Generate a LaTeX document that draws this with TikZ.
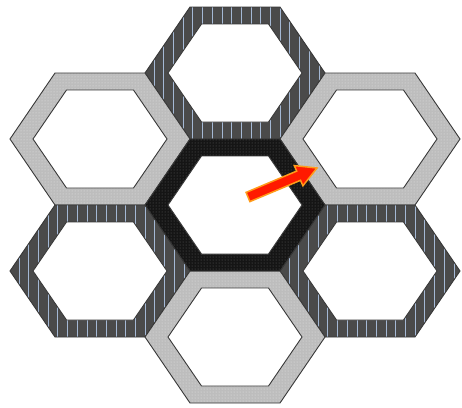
\documentclass[tikz,border=0pt]{standalone}
\usetikzlibrary{patterns}
\definecolor{stripebase}{HTML}{4A4A4A}
\definecolor{stripeline}{HTML}{A4B8D4}
\definecolor{lightbase}{HTML}{BDBDBD}
\definecolor{lightdot}{HTML}{E4E4E4}
\definecolor{darkbase}{HTML}{151515}
\definecolor{darkdot}{HTML}{606060}
\definecolor{edge}{HTML}{383838}
\definecolor{arrowred}{HTML}{FF1A00}
\definecolor{arroworange}{HTML}{FF9C1A}
\tikzset{
  hexedge/.style={draw=edge, line width=0.9pt, line join=miter},
  stripes/.style={draw=stripeline, line width=1pt},
  arrowbody/.style={fill=arrowred, draw=arroworange, line width=1.5pt, line join=miter},
}
\newcommand\texstripe{%
  \fill[stripebase] (-95,-70) rectangle (95,70);
  \foreach \k in {-9,...,9} \draw[stripes] ({-3.3+9.7*\k},-70) -- ({-3.3+9.7*\k},70);}
\newcommand\texlight{%
  \fill[lightbase] (-95,-70) rectangle (95,70);
  \fill[pattern=dots, pattern color=lightdot] (-95,-70) rectangle (95,70);}
\newcommand\texdark{%
  \fill[darkbase] (-95,-70) rectangle (95,70);
  \fill[pattern=dots, pattern color=darkdot] (-95,-70) rectangle (95,70);}
\newcommand\hexring[3]{%
  \begin{scope}[shift={(#1,#2)}]
    \begin{scope}
      \clip (-90,0) -- (-45,-66) -- (45,-66) -- (90,0) -- (45,66) -- (-45,66) -- cycle;
      \csname tex#3\endcsname
    \end{scope}
    \draw[hexedge] (-90,0) -- (-45,-66) -- (45,-66) -- (90,0) -- (45,66) -- (-45,66) -- cycle;
    \filldraw[fill=white, hexedge] (-67,0) -- (-33.5,-49) -- (33.5,-49) -- (67,0) -- (33.5,49) -- (-33.5,49) -- cycle;
  \end{scope}}
\begin{document}
\begin{tikzpicture}[x=1pt,y=-1pt]
  \useasboundingbox[fill=white] (0,0) rectangle (462,407);
  \hexring{235}{73}{stripe}
  \hexring{100}{139}{light}
  \hexring{370}{139}{light}
  \hexring{100}{271}{stripe}
  \hexring{370}{271}{stripe}
  \hexring{235}{337}{light}
  \hexring{235}{205}{dark}
  \filldraw[arrowbody] (246.1,192.4) -- (296.7,171.1) -- (294.3,165.6) -- (317,168) -- (302.9,185.8) -- (300.5,180.3) -- (249.9,201.6) -- cycle;
\end{tikzpicture}
\end{document}
